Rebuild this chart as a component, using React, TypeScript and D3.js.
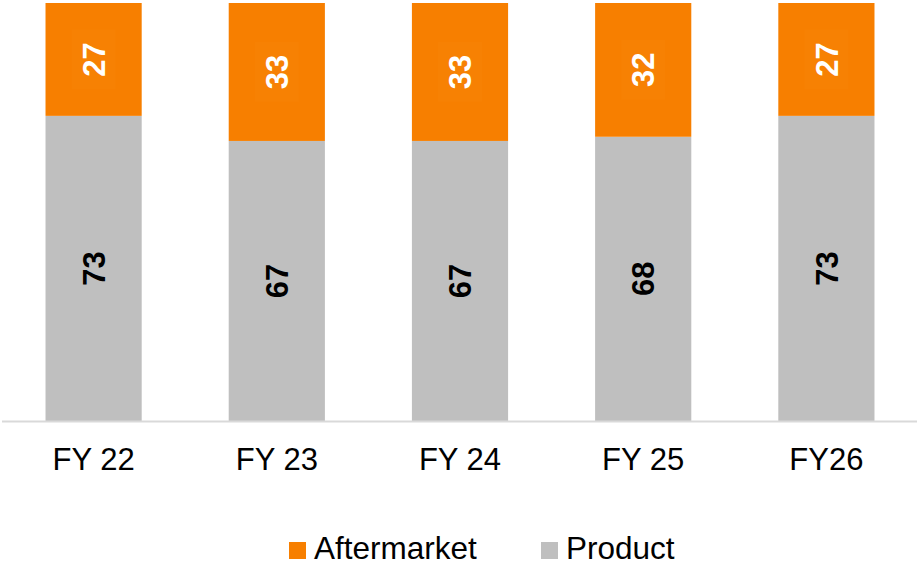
import { useRef, useEffect } from "react";
import * as d3 from "d3";

const categories = ["FY 22", "FY 23", "FY 24", "FY 25", "FY26"];
const product = [73, 67, 67, 68, 73];
const aftermarket = [27, 33, 33, 32, 27];
const seriesNames = ["Aftermarket", "Product"];

const ORANGE = "#f77f00";
const GREY = "#bfbfbf";
const FONT = "Liberation Sans, Arial, sans-serif";

function App() {
    const svgRef = useRef<SVGSVGElement>(null);

    useEffect(() => {
        const w = 918;
        const h = 569;
        const svg = d3.select(svgRef.current)
            .attr("width", w)
            .attr("height", h);
        svg.selectAll("*").remove();

        const x = d3.scaleBand()
            .domain(categories)
            .range([2, 918])
            .paddingInner(0.475)
            .paddingOuter(0.2375);

        const y = d3.scaleLinear()
            .domain([0, 100])
            .range([421, 3]);

        const rows = categories.map((c, i) => ({
            cat: c,
            Product: product[i],
            Aftermarket: aftermarket[i],
        }));
        const stack = d3.stack<any>().keys(["Product", "Aftermarket"]);
        const layers = stack(rows);
        const colors: Record<string, string> = { Product: GREY, Aftermarket: ORANGE };
        const textColors: Record<string, string> = { Product: "#000", Aftermarket: "#fff" };

        layers.forEach(layer => {
            const g = svg.append("g");
            g.selectAll("rect")
                .data(layer)
                .enter()
                .append("rect")
                .attr("x", d => x(d.data.cat)!)
                .attr("width", x.bandwidth())
                .attr("y", d => y(d[1]))
                .attr("height", d => y(d[0]) - y(d[1]))
                .attr("fill", colors[layer.key]);

            const labels = g.selectAll("g.lab")
                .data(layer)
                .enter()
                .append("g")
                .attr("transform", d => {
                    const cx = x(d.data.cat)! + x.bandwidth() / 2;
                    const cy = (y(d[0]) + y(d[1])) / 2;
                    return `translate(${cx},${cy}) rotate(-90)`;
                });
            if (layer.key === "Aftermarket") {
                labels.append("rect")
                    .attr("x", -30)
                    .attr("y", -22)
                    .attr("width", 60)
                    .attr("height", 44)
                    .attr("fill", "#f78103");
            }
            labels.append("text")
                .attr("text-anchor", "middle")
                .attr("dy", "0.36em")
                .attr("font-family", FONT)
                .attr("font-weight", "bold")
                .attr("font-size", 31)
                .attr("fill", textColors[layer.key])
                .text(d => String(d.data[layer.key]));
        });

        // baseline
        svg.append("line")
            .attr("x1", 2)
            .attr("x2", 917)
            .attr("y1", y(0) + 0.5)
            .attr("y2", y(0) + 0.5)
            .attr("stroke", "#d9d9d9")
            .attr("stroke-width", 2);

        // category labels
        svg.append("g")
            .selectAll("text")
            .data(categories)
            .enter()
            .append("text")
            .attr("x", d => x(d)! + x.bandwidth() / 2)
            .attr("y", 470)
            .attr("text-anchor", "middle")
            .attr("font-family", FONT)
            .attr("font-size", 31)
            .attr("fill", "#000")
            .text(d => d);

        // legend
        const legendX = [289, 541];
        const legendColors = [ORANGE, GREY];
        const lg = svg.append("g");
        seriesNames.forEach((name, i) => {
            lg.append("rect")
                .attr("x", legendX[i])
                .attr("y", 542)
                .attr("width", 17)
                .attr("height", 17)
                .attr("fill", legendColors[i]);
            lg.append("text")
                .attr("x", legendX[i] + 25)
                .attr("y", 559)
                .attr("font-family", FONT)
                .attr("font-size", 31.5)
                .attr("fill", "#000")
                .text(name);
        });
    }, []);

    return (
        <div>
            <svg ref={svgRef} style={{ position: "absolute", left: 0, top: 0, display: "block" }} />
        </div>
    );
}

export default App;
